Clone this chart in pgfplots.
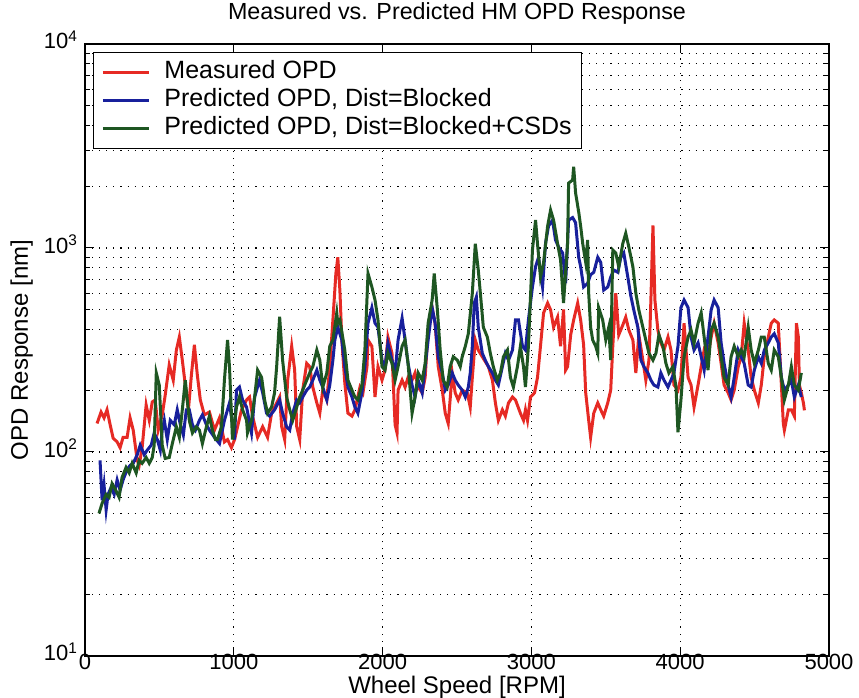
\documentclass[border=0pt]{standalone}
\usepackage{fontspec}
\setmainfont{Liberation Sans}
\usepackage{pgfplots}
\pgfplotsset{compat=1.18}
\definecolor{mred}{RGB}{230,42,36}
\definecolor{mblue}{RGB}{24,32,156}
\definecolor{mgreen}{RGB}{30,86,34}
\begin{document}
\begin{tikzpicture}
\useasboundingbox (-85pt,-42pt) rectangle (774pt,656pt);
\begin{axis}[
  at={(0,0)}, anchor=south west,
  scale only axis, width=744pt, height=612pt,
  xmin=0, xmax=5000, ymin=10, ymax=10000,
  ymode=log,
  xtick={0,1000,2000,3000,4000,5000},
  xticklabels={0,1000,2000,3000,4000,5000},
  ytick={10,100,1000,10000},
  yticklabels={10\textsuperscript{1},10\textsuperscript{2},10\textsuperscript{3},10\textsuperscript{4}},
  minor ytick={20,30,40,50,60,70,80,90,200,300,400,500,600,700,800,900,2000,3000,4000,5000,6000,7000,8000,9000},
  tick align=inside, xtick pos=both, ytick pos=both,
  major tick length=9pt, minor tick length=5pt,
  tick style={black, line width=1pt},
  axis line style={black, line width=1.3pt},
  xmajorgrids=true, ymajorgrids=true, yminorgrids=true,
  major grid style={black, line width=1.1pt, dash pattern=on 1.1pt off 6pt},
  minor grid style={black, line width=1.1pt, dash pattern=on 1.1pt off 6pt},
  ticklabel style={font=\fontsize{22}{26}\selectfont},
  xticklabel style={yshift=5pt},
  yticklabel style={xshift=-4pt, yshift=4pt},
  title={Measured vs. Predicted HM OPD Response},
  title style={font=\fontsize{23.3}{28}\selectfont, at={(axis description cs:0.5,1)}, anchor=center, yshift=25pt},
  xlabel={Wheel Speed [RPM]},
  xlabel style={font=\fontsize{24}{28}\selectfont, at={(axis description cs:0.5,0)}, anchor=center, yshift=-31pt},
  ylabel={OPD Response [nm]},
  ylabel style={font=\fontsize{24}{28}\selectfont, at={(axis description cs:-0.085,0.5)}, anchor=center},
  legend cell align=left,
  legend style={at={(axis description cs:0,1)}, anchor=north west, xshift=8pt, yshift=-8pt,
    draw=black, fill=white, line width=1pt, font=\fontsize{25}{28}\selectfont,
    row sep=0pt, inner xsep=8pt, inner ysep=6pt,
    nodes={inner sep=2pt, text height=18pt, text depth=6pt},
    /tikz/every odd column/.append style={column sep=12pt}},
  legend image code/.code={\draw[#1, line width=3pt] (0pt,0pt) -- (46pt,0pt);},
]
\addplot[mred, line width=3pt] coordinates {
(81,138) (108,157) (128,147) (148,161) (169,136) (189,117) (216,112) (236,105) (256,118) (283,118)
(303,147) (324,128) (351,91) (364,86) (384,105) (411,170) (432,143) (452,176) (472,180) (492,128)
(519,152) (539,190) (566,267) (593,225) (614,316) (634,366) (654,282) (674,213) (695,161) (715,238)
(735,335) (755,238) (775,180) (802,152) (836,157) (870,128) (904,147) (937,112) (958,115) (984,105)
(1005,115) (1052,161) (1086,180) (1106,186) (1126,150) (1160,118) (1194,133) (1227,118) (1254,155) (1288,174)
(1308,186) (1322,133) (1342,115) (1362,225) (1389,330) (1409,252) (1423,133) (1443,115) (1463,201) (1490,272)
(1510,262) (1531,208) (1558,174) (1578,155) (1598,201) (1625,180) (1645,262) (1666,444) (1686,750) (1699,900)
(1713,620) (1726,354) (1746,218) (1767,155) (1794,150) (1814,161) (1848,208) (1868,195) (1895,262) (1902,354)
(1928,330) (1949,186) (1969,262) (1996,225) (2016,252) (2036,366) (2063,305) (2084,136) (2097,124) (2104,201)
(2131,225) (2151,208) (2171,232) (2198,225) (2218,244) (2239,208) (2266,195) (2286,232) (2306,396) (2333,510)
(2353,425) (2374,262) (2401,201) (2421,155) (2441,138) (2468,244) (2488,195) (2508,180) (2535,201) (2569,195)
(2589,166) (2603,232) (2623,354) (2643,316) (2670,293) (2711,262) (2738,225) (2758,174) (2778,143) (2805,161)
(2825,150) (2846,174) (2873,186) (2893,180) (2926,155) (2947,143) (2960,161) (2974,143) (2994,186) (3021,195)
(3041,232) (3061,330) (3082,481) (3109,537) (3129,497) (3149,409) (3176,458) (3196,330) (3216,500) (3230,252)
(3243,262) (3264,375) (3284,444) (3311,537) (3331,444) (3351,335) (3365,195) (3385,143) (3398,118) (3419,155)
(3446,174) (3466,161) (3486,150) (3513,174) (3533,201) (3547,330) (3567,600) (3587,375) (3614,419) (3634,458)
(3655,396) (3682,354) (3702,244) (3722,375) (3749,282) (3769,225) (3790,282) (3803,556) (3817,1290) (3830,556)
(3850,396) (3870,343) (3891,316) (3918,366) (3938,316) (3958,213) (3985,201) (4005,232) (4026,428) (4053,232)
(4073,213) (4093,166) (4120,213) (4141,262) (4161,316) (4187,293) (4208,366) (4228,428) (4255,343) (4275,272)
(4295,213) (4322,195) (4342,180) (4363,201) (4390,262) (4410,293) (4430,428) (4457,316) (4477,232) (4498,201)
(4525,174) (4545,213) (4565,293) (4592,366) (4612,428) (4632,444) (4659,428) (4680,213) (4693,138) (4700,128)
(4727,161) (4747,161) (4767,150) (4781,428) (4794,366) (4801,213) (4814,195) (4828,174) (4835,160)
};
\addlegendentry{Measured OPD}
\addplot[mblue, line width=3pt] coordinates {
(101,91) (115,58) (128,69) (142,52) (155,62) (175,67) (196,62) (216,73) (236,65) (256,73)
(283,82) (303,86) (324,88) (351,97) (371,108) (398,97) (418,102) (445,108) (465,124) (486,115)
(506,102) (519,128) (533,143) (553,115) (573,143) (600,136) (620,161) (641,136) (661,121) (681,161)
(701,161) (722,136) (742,128) (769,143) (789,152) (816,136) (836,128) (870,118) (904,110) (937,143)
(971,174) (1005,115) (1018,201) (1038,208) (1059,180) (1086,166) (1119,124) (1140,186) (1173,225) (1194,195)
(1220,155) (1241,150) (1274,161) (1308,180) (1328,155) (1355,133) (1376,128) (1396,155) (1423,180) (1443,174)
(1463,186) (1490,201) (1510,208) (1531,225) (1558,252) (1578,225) (1598,208) (1625,180) (1645,213) (1666,282)
(1679,354) (1699,409) (1726,354) (1746,262) (1767,208) (1794,186) (1814,166) (1834,155) (1861,195) (1881,262)
(1902,428) (1928,510) (1949,428) (1969,409) (1996,282) (2016,262) (2036,341) (2063,282) (2084,244) (2104,354)
(2131,453) (2151,354) (2171,272) (2198,213) (2218,186) (2239,225) (2266,195) (2286,262) (2306,354) (2333,510)
(2353,428) (2374,293) (2401,244) (2421,201) (2441,213) (2468,244) (2488,225) (2508,213) (2535,201) (2556,186)
(2576,208) (2589,244) (2603,330) (2616,537) (2630,575) (2643,409) (2670,305) (2690,282) (2711,262) (2738,244)
(2758,225) (2778,213) (2805,262) (2825,305) (2846,282) (2873,316) (2893,444) (2913,444) (2940,330) (2960,316)
(2980,444) (3007,644) (3028,809) (3048,900) (3075,644) (3095,1055) (3115,1280) (3142,1370) (3162,1094) (3183,1010)
(3210,945) (3230,671) (3250,1370) (3277,1410) (3297,1330) (3318,900) (3331,809) (3351,644) (3378,671) (3398,740)
(3419,760) (3446,900) (3466,850) (3486,622) (3513,644) (3533,720) (3554,780) (3581,760) (3601,900) (3621,945)
(3648,720) (3668,583) (3688,497) (3715,409) (3736,282) (3756,262) (3783,244) (3803,225) (3823,213) (3850,208)
(3870,244) (3891,225) (3918,208) (3938,225) (3958,244) (3985,330) (4005,510) (4026,556) (4053,510) (4073,366)
(4093,316) (4120,343) (4141,293) (4161,252) (4187,366) (4208,497) (4228,556) (4255,510) (4275,343) (4295,272)
(4322,213) (4342,186) (4363,232) (4390,316) (4410,293) (4430,272) (4457,213) (4477,208) (4498,252) (4525,293)
(4545,272) (4565,316) (4592,343) (4612,366) (4632,380) (4659,343) (4680,232) (4700,201) (4727,213) (4747,225)
(4767,186) (4794,213) (4814,186)
};
\addlegendentry{Predicted OPD, Dist=Blocked}
\addplot[mgreen, line width=3pt] coordinates {
(94,50) (115,56) (142,62) (162,60) (182,70) (202,66) (229,60) (249,75) (276,84) (297,79)
(317,88) (344,79) (364,91) (384,88) (411,94) (432,88) (452,94) (465,108) (479,244) (499,213)
(519,108) (539,93) (566,94) (587,110) (614,133) (634,118) (654,161) (674,225) (701,143) (722,124)
(748,133) (769,128) (789,110) (816,133) (836,150) (856,128) (877,115) (890,115) (917,133) (937,225)
(958,354) (971,262) (984,155) (991,115) (1018,166) (1038,186) (1059,161) (1086,143) (1092,124) (1119,143)
(1140,186) (1160,252) (1187,232) (1207,180) (1227,155) (1254,166) (1274,195) (1288,262) (1308,460) (1328,282)
(1355,186) (1376,161) (1396,143) (1423,166) (1443,186) (1463,201) (1490,225) (1510,244) (1531,262) (1558,316)
(1578,282) (1598,208) (1625,244) (1645,330) (1666,354) (1692,481) (1699,428) (1713,444) (1746,316) (1767,225)
(1794,201) (1814,186) (1834,180) (1861,213) (1881,316) (1902,750) (1928,644) (1949,556) (1969,444) (1996,262)
(2016,252) (2036,305) (2063,272) (2084,225) (2104,262) (2131,330) (2151,354) (2171,272) (2198,155) (2218,186)
(2239,244) (2266,225) (2286,272) (2306,428) (2333,556) (2347,750) (2367,510) (2387,316) (2407,225) (2434,208)
(2454,262) (2475,293) (2502,282) (2522,262) (2535,293) (2556,330) (2576,380) (2603,600) (2623,1050) (2643,780)
(2657,600) (2677,409) (2704,366) (2724,305) (2744,262) (2771,225) (2792,244) (2812,293) (2839,316) (2859,232)
(2879,208) (2906,262) (2926,330) (2947,262) (2960,208) (2980,330) (3007,978) (3028,1370) (3041,1050) (3061,720)
(3082,850) (3109,1280) (3129,1535) (3149,1370) (3176,1050) (3196,873) (3216,537) (3243,1050) (3250,2080) (3277,2154)
(3284,2500) (3297,1860) (3318,1500) (3331,1280) (3345,1050) (3365,850) (3378,1094) (3385,600) (3398,409) (3412,354)
(3432,330) (3446,305) (3452,510) (3479,444) (3500,354) (3520,409) (3533,282) (3547,978) (3567,945) (3587,809)
(3614,1050) (3634,1180) (3655,1010) (3682,809) (3702,600) (3722,497) (3749,409) (3769,354) (3790,305) (3817,282)
(3837,305) (3857,375) (3884,330) (3904,272) (3924,244) (3951,262) (3972,208) (3985,125) (4005,180) (4026,293)
(4053,366) (4073,396) (4093,341) (4120,428) (4141,481) (4161,366) (4187,252) (4208,396) (4228,428) (4255,366)
(4275,293) (4295,232) (4322,213) (4342,293) (4363,330) (4390,293) (4410,316) (4430,293) (4457,409) (4477,316)
(4498,272) (4525,316) (4545,366) (4565,366) (4592,272) (4612,252) (4632,316) (4659,293) (4680,232) (4700,180)
(4727,213) (4747,262) (4767,213) (4794,201) (4814,244)
};
\addlegendentry{Predicted OPD, Dist=Blocked+CSDs}
\end{axis}
\end{tikzpicture}
\end{document}
